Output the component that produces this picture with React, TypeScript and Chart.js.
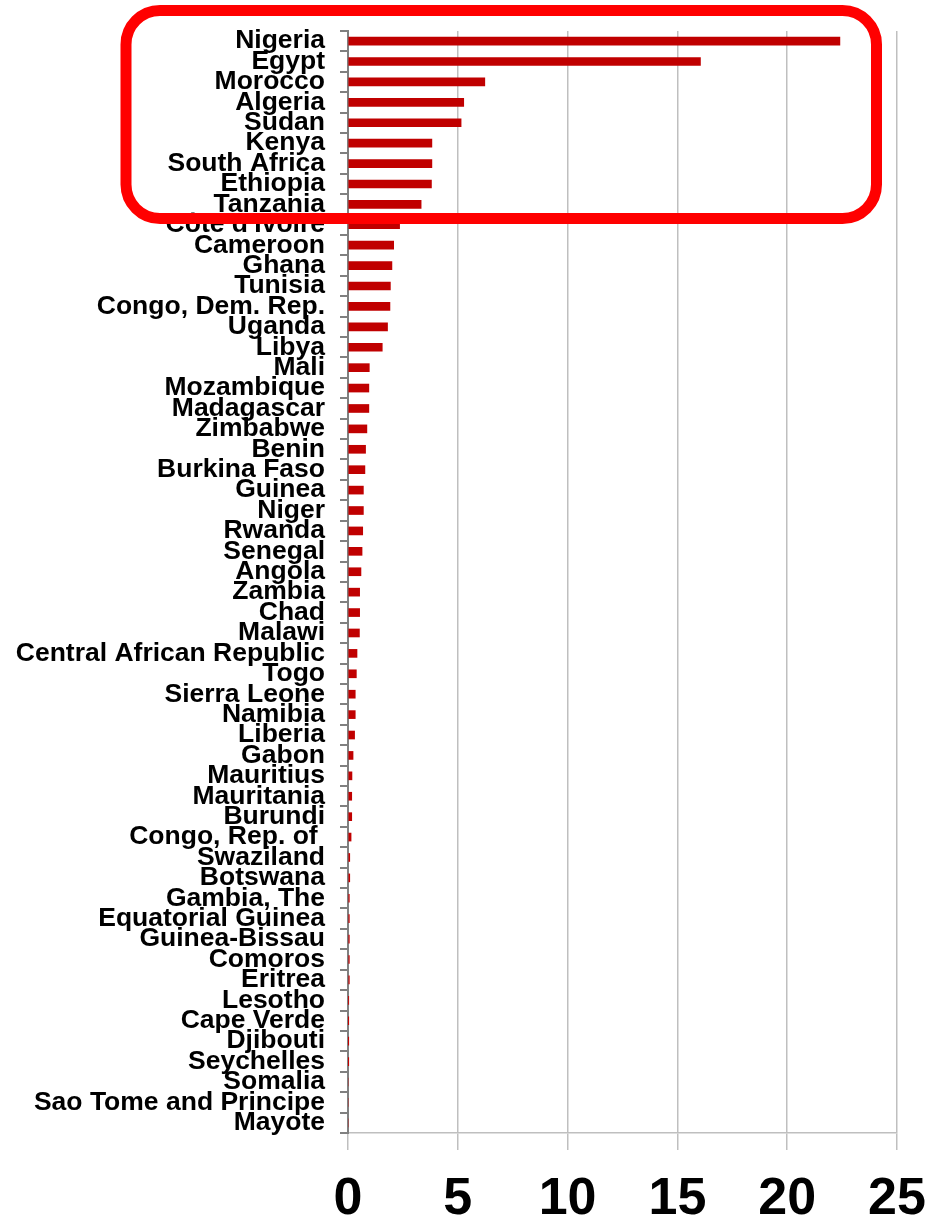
import React, { useEffect, useRef } from "react";
import { Chart, registerables } from "chart.js";

Chart.register(...registerables);

const countries: string[] = [
  "Nigeria", "Egypt", "Morocco", "Algeria", "Sudan", "Kenya", "South Africa", "Ethiopia", "Tanzania",
  "Côte d'Ivoire", "Cameroon", "Ghana", "Tunisia", "Congo, Dem. Rep.", "Uganda", "Libya", "Mali",
  "Mozambique", "Madagascar", "Zimbabwe", "Benin", "Burkina Faso", "Guinea", "Niger", "Rwanda",
  "Senegal", "Angola", "Zambia", "Chad", "Malawi", "Central African Republic", "Togo", "Sierra Leone",
  "Namibia", "Liberia", "Gabon", "Mauritius", "Mauritania", "Burundi", "Congo, Rep. of ", "Swaziland",
  "Botswana", "Gambia, The", "Equatorial Guinea", "Guinea-Bissau", "Comoros", "Eritrea", "Lesotho",
  "Cape Verde", "Djibouti", "Seychelles", "Somalia", "Sao Tome and Principe", "Mayote",
];

const values: number[] = [
  22.4, 16.05, 6.23, 5.27, 5.15, 3.82, 3.82, 3.8, 3.33,
  2.35, 2.08, 2.0, 1.93, 1.91, 1.8, 1.56, 0.97,
  0.95, 0.95, 0.86, 0.8, 0.77, 0.7, 0.7, 0.67,
  0.64, 0.59, 0.53, 0.53, 0.52, 0.41, 0.38, 0.33,
  0.33, 0.3, 0.23, 0.18, 0.17, 0.17, 0.14, 0.08,
  0.08, 0.06, 0.06, 0.06, 0.06, 0.06, 0.02,
  0.01, 0.01, 0.005, 0, 0, 0,
];

const xMin = 0;
const xMax = 25;
const xStep = 5;

const FONT = "'Liberation Sans', Arial, Helvetica, sans-serif";

// Highlight box annotation (decoration, in canvas pixels)
const highlightBox = { left: 126, top: 10.5, right: 876.5, bottom: 218.5, radius: 34, lineWidth: 11, color: "#FF0000" };

const boxPlugin = {
  id: "highlightBox",
  afterDraw(chart: any) {
    const ctx = chart.ctx;
    const b = highlightBox;
    ctx.save();
    ctx.strokeStyle = b.color;
    ctx.lineWidth = b.lineWidth;
    ctx.beginPath();
    ctx.roundRect(b.left, b.top, b.right - b.left, b.bottom - b.top, b.radius);
    ctx.stroke();
    ctx.restore();
  },
};

export default function App() {
  const ref = useRef<HTMLCanvasElement | null>(null);

  useEffect(() => {
    document.body.style.margin = "0";
    const canvas = ref.current;
    if (!canvas) return;
    const chart = new Chart(canvas, {
      type: "bar",
      data: {
        labels: countries,
        datasets: [
          {
            data: values,
            backgroundColor: "#C00000",
            borderWidth: 0,
            barThickness: 8,
          },
        ],
      },
      options: {
        indexAxis: "y",
        responsive: false,
        animation: false,
        devicePixelRatio: 1,
        layout: { padding: { top: 29, right: 32, left: 0, bottom: 0 } },
        plugins: { legend: { display: false }, tooltip: { enabled: false } },
        scales: {
          x: {
            min: xMin,
            max: xMax,
            ticks: {
              stepSize: xStep,
              color: "#000",
              font: { family: FONT, size: 52, weight: "bold" },
              padding: 18,
              maxRotation: 0,
            },
            grid: {
              color: "#BFBFBF",
              lineWidth: 1.5,
              tickLength: 17,
            },
            border: { color: "#BFBFBF", width: 1.5 },
            afterFit: (s: any) => {
              s.height = 84;
              s.paddingLeft = 0;
              s.paddingRight = 0;
            },
          },
          y: {
            z: 1,
            ticks: {
              autoSkip: false,
              color: "#000",
              font: { family: FONT, size: 26.5, weight: "bold" },
              padding: 15,
            },
            grid: {
              drawOnChartArea: false,
              offset: true,
              tickLength: 8,
              color: "#808080",
              lineWidth: 2,
            },
            border: { color: "#808080", width: 2 },
            afterFit: (s: any) => {
              s.width = 348;
            },
          },
        },
      } as any,
      plugins: [boxPlugin],
    });
    return () => chart.destroy();
  }, []);

  return (
    <div style={{ width: 929, height: 1217, overflow: "hidden", background: "#fff" }}>
      <canvas ref={ref} width={929} height={1217} style={{ display: "block" }} />
    </div>
  );
}
